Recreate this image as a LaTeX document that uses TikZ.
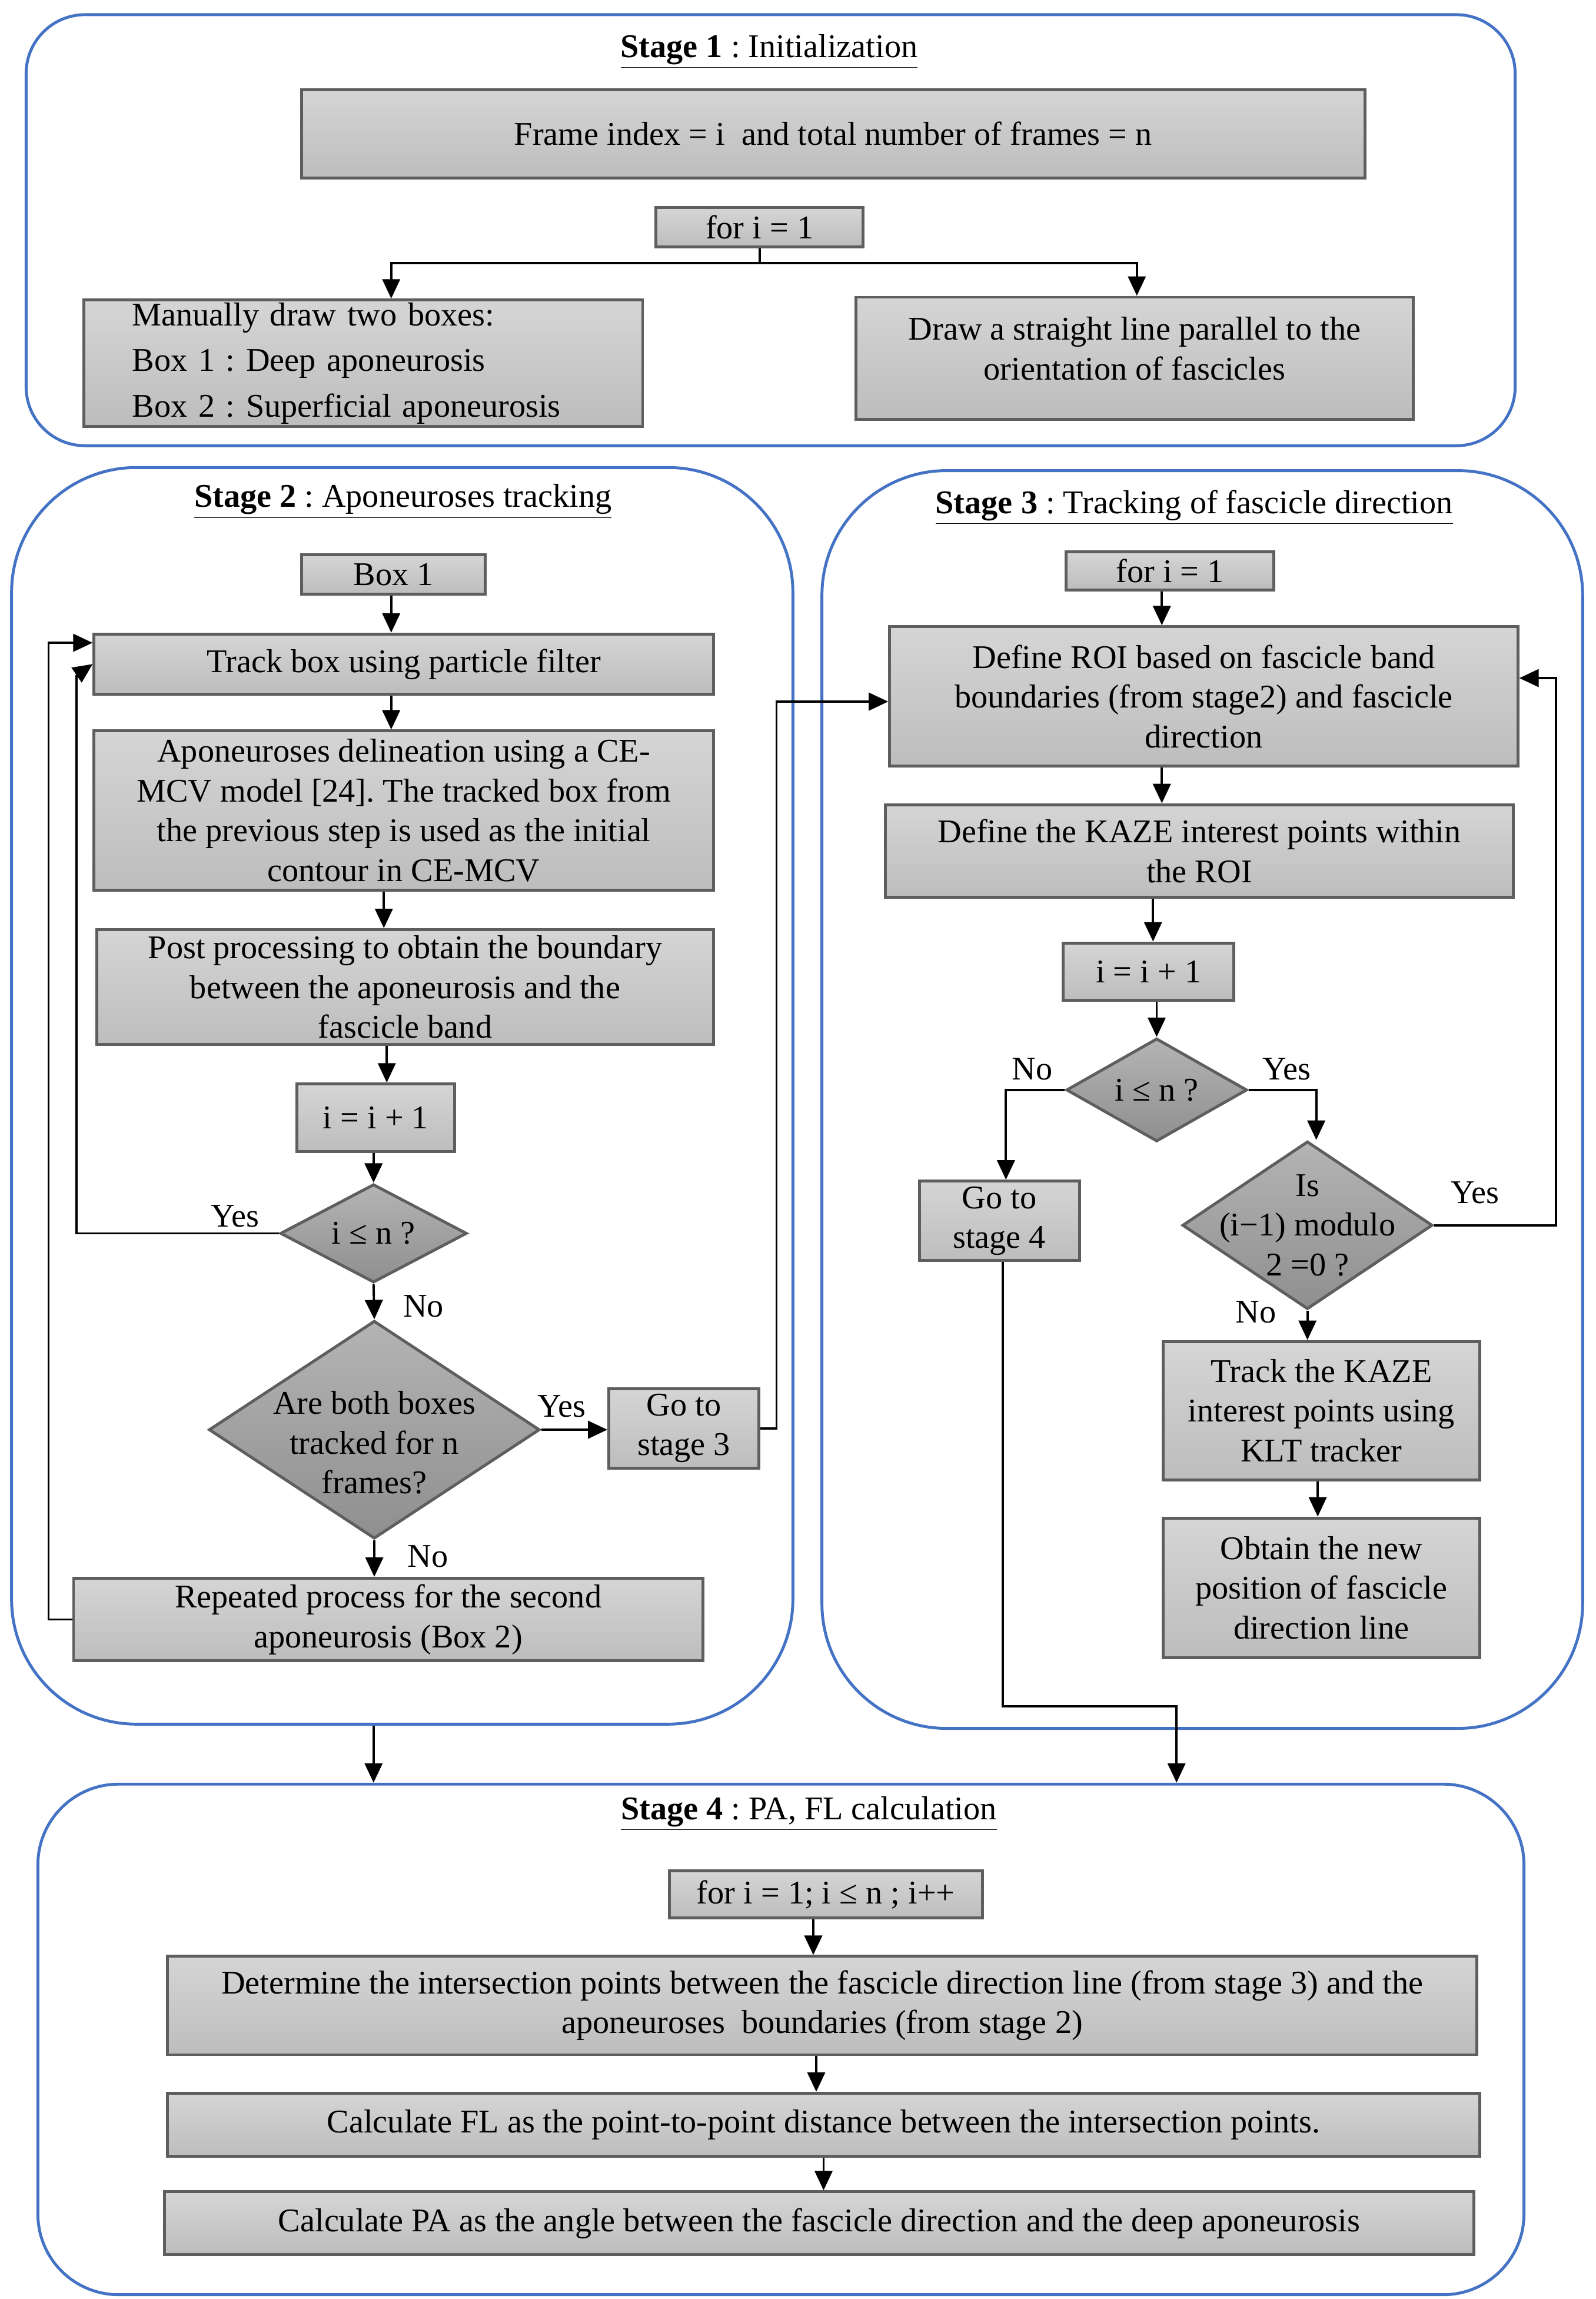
\documentclass[tikz,border=0pt]{standalone}
\usepackage{fontspec}
\setmainfont{Liberation Serif}
\usetikzlibrary{shapes.geometric,arrows.meta}
\definecolor{boxtop}{HTML}{D5D5D5}
\definecolor{boxbot}{HTML}{BDBDBD}
\definecolor{diatop}{HTML}{B4B4B4}
\definecolor{diabot}{HTML}{8F8F8F}
\definecolor{edgegray}{HTML}{5E5E5E}
\definecolor{panelblue}{HTML}{4472C4}
\frenchspacing

\begin{document}
\begin{tikzpicture}[x=0.024986cm,y=-0.024986cm,
  every node/.style={font=\fontsize{16}{19.2}\selectfont},
  box/.style={draw=edgegray,line width=1.4pt,top color=boxtop,bottom color=boxbot,align=center,inner sep=0pt},
  decision/.style={diamond,draw=edgegray,line width=1.4pt,top color=diatop,bottom color=diabot,inner sep=0pt},
  panel/.style={draw=panelblue,line width=1.4pt,inner sep=0pt},
  arr/.style={line width=1.1pt,-{Triangle[length=0.33cm,width=0.3cm]}},
  line/.style={line width=1.1pt},
  lbl/.style={inner sep=0pt},
  heading/.style={inner sep=0pt}]
\useasboundingbox (0,0) rectangle (1085,1563);

% stage panels
\node[panel,rounded corners=1cm,minimum width=25.29cm,minimum height=7.32cm] (stA) at (524,156.5) {};
\node[panel,rounded corners=2.12cm,minimum width=13.27cm,minimum height=21.34cm] (stB) at (273.5,745) {};
\node[panel,rounded corners=2.12cm,minimum width=12.92cm,minimum height=21.36cm] (stC) at (817.5,747.5) {};
\node[panel,rounded corners=1.37cm,minimum width=25.24cm,minimum height=8.67cm] (stD) at (531,1386.5) {};

% stage 1
\node[heading] (tA) at (523,35) {\underline{\textbf{Stage 1} : Initialization}};
\node[box,minimum width=18.06cm,minimum height=1.50cm] (frame) at (566.5,91) {Frame index = i\ \ and total number of frames = n};
\node[box,minimum width=3.52cm,minimum height=0.67cm] (forA) at (516.5,154.5) {for i = 1};
\node[box,align=left,text width=7.85cm,inner xsep=0.82cm,minimum height=2.15cm,font=\fontsize{16}{22}\selectfont] (manual) at (247,247) {Manually draw two boxes:\\Box 1 : Deep aponeurosis\\Box 2 : Superficial aponeurosis};
\node[box,minimum width=9.47cm,minimum height=2.07cm,text depth=0.33cm] (straight) at (771.5,243.5) {Draw a straight line parallel to the\\orientation of fascicles};
\coordinate (split) at (516.5,179);
\draw[line] (forA) -- (split);
\draw[arr] (split) -| (manual.north -| 266,0);
\draw[arr] (split) -| (straight.north -| 773,0);

% stage 2
\node[heading] (tB) at (274,341) {\underline{\textbf{Stage 2} : Aponeuroses tracking}};
\node[box,minimum width=3.12cm,minimum height=0.67cm] (boxone) at (267.5,390.5) {Box 1};
\node[box,minimum width=10.52cm,minimum height=1.02cm] (track) at (274.5,451.5) {Track box using particle filter};
\node[box,minimum width=10.52cm,minimum height=2.70cm] (deline) at (274.5,551) {Aponeuroses delineation using a CE-\\MCV model [24]. The tracked box from\\the previous step is used as the initial\\contour in CE-MCV};
\node[box,minimum width=10.47cm,minimum height=1.95cm] (post) at (275.5,671) {Post processing to obtain the boundary\\between the aponeurosis and the\\fascicle band};
\node[box,minimum width=2.67cm,minimum height=1.15cm] (incA) at (255.5,760) {i = i + 1};
\node[decision,minimum width=3.17cm,minimum height=1.67cm,label={center:i ≤ n ?}] (condA) at (254,838.5) {};
\node[decision,minimum width=5.62cm,minimum height=3.70cm,label={[align=center,yshift=-0.22cm]center:Are both boxes\\tracked for n\\frames?}] (both) at (254.5,972) {};
\node[box,minimum width=2.55cm,minimum height=1.35cm] (goC) at (465,971) {Go to\\stage 3};
\node[box,minimum width=10.69cm,minimum height=1.40cm] (repeat) at (264,1101) {Repeated process for the second\\aponeurosis (Box 2)};
\node[lbl] (yA) at (160,827) {Yes};
\node[lbl] (nA) at (288,888) {No};
\node[lbl] (yB) at (382,956) {Yes};
\node[lbl] (nB) at (291,1058) {No};

\draw[arr] (boxone.south -| 266,0) -- (track.north -| 266,0);
\draw[arr] (track.south -| 266,0) -- (deline.north -| 266,0);
\draw[arr] (deline.south -| 261,0) -- (post.north -| 261,0);
\draw[arr] (post.south -| 263,0) -- (incA.north -| 263,0);
\draw[arr] (incA.south -| 254,0) -- (condA.north);
\coordinate (yesA) at (52,459);
\draw[line] (condA.west) -| (yesA);
\draw[arr] (yesA) -- (track.west);
\coordinate (backA) at (33,437);
\draw[arr] (repeat.west) -| (backA) -- (track.west |- backA);
\draw[arr] (condA.south) -- (both.north);
\draw[arr] (both.east) -- (goC.west |- both.east);
\draw[arr] (both.south) -- (repeat.north -| both.south);
\draw[arr] (stB.south -| 254,0) -- (stD.north -| 254,0);

% stage 3
\node[heading] (tC) at (812,345) {\underline{\textbf{Stage 3} : Tracking of fascicle direction}};
\node[box,minimum width=3.52cm,minimum height=0.65cm] (forC) at (795.5,388) {for i = 1};
\node[box,minimum width=10.67cm,minimum height=2.37cm] (roi) at (818.5,473.5) {Define ROI based on fascicle band\\boundaries (from stage2) and fascicle\\direction};
\node[box,minimum width=10.67cm,minimum height=1.57cm] (kaze) at (815.5,578.5) {Define the KAZE interest points within\\the ROI};
\node[box,minimum width=2.90cm,minimum height=0.97cm] (incB) at (781,660.5) {i = i + 1};
\node[decision,minimum width=3.07cm,minimum height=1.75cm,label={center:i ≤ n ?}] (condB) at (786.5,741) {};
\node[box,minimum width=2.72cm,minimum height=1.35cm] (goD) at (679.5,830) {Go to\\stage 4};
\node[decision,minimum width=4.25cm,minimum height=2.85cm,label={[align=center]center:Is\\(i−1) modulo\\2 =0 ?}] (mod) at (889,833) {};
\node[box,minimum width=5.37cm,minimum height=2.35cm] (klt) at (898.5,959) {Track the KAZE\\interest points using\\KLT tracker};
\node[box,minimum width=5.37cm,minimum height=2.37cm] (newpos) at (898.5,1079.5) {Obtain the new\\position of fascicle\\direction line};
\node[lbl] (nC) at (702,727) {No};
\node[lbl] (yC) at (875,727) {Yes};
\node[lbl] (yD) at (1003,811) {Yes};
\node[lbl] (nD) at (854,892) {No};

\coordinate (upC) at (528,477);
\draw[arr] (goC.east) -| (upC) -- (roi.west |- upC);
\draw[arr] (forC.south -| 790,0) -- (roi.north -| 790,0);
\draw[arr] (roi.south -| 790,0) -- (kaze.north -| 790,0);
\draw[arr] (kaze.south -| 784,0) -- (incB.north -| 784,0);
\draw[arr] (incB.south -| 786.5,0) -- (condB.north);
\draw[arr] (condB.west) -| (goD.north -| 684,0);
\draw[arr] (condB.east) -| (mod.north -| 895,0);
\coordinate (upD) at (1058,461);
\draw[arr] (mod.east) -| (upD) -- (roi.east |- upD);
\draw[arr] (mod.south) -- (klt.north -| mod.south);
\draw[arr] (klt.south -| 896,0) -- (newpos.north -| 896,0);
\coordinate (downD) at (682,1160);
\draw[arr] (goD.south -| 682,0) -- (downD) -| (stD.north -| 800,0);

% stage 4
\node[heading] (tD) at (550,1233) {\underline{\textbf{Stage 4} : PA, FL calculation}};
\node[box,minimum width=5.32cm,minimum height=0.80cm] (forD) at (561.5,1288) {for i = 1; i ≤ n ; i++};
\node[box,minimum width=22.24cm,minimum height=1.67cm] (inter) at (559,1363.5) {Determine the intersection points between the fascicle direction line (from stage 3) and the\\aponeuroses\ \ boundaries (from stage 2)};
\node[box,minimum width=22.29cm,minimum height=1.07cm] (fl) at (560,1444.5) {Calculate FL as the point-to-point distance between the intersection points.};
\node[box,minimum width=22.24cm,minimum height=1.07cm] (pa) at (557,1511.5) {Calculate PA as the angle between the fascicle direction and the deep aponeurosis};
\draw[arr] (forD.south -| 553,0) -- (inter.north -| 553,0);
\draw[arr] (inter.south -| 555,0) -- (fl.north -| 555,0);
\draw[arr] (fl.south -| 560,0) -- (pa.north -| 560,0);
\end{tikzpicture}
\end{document}
